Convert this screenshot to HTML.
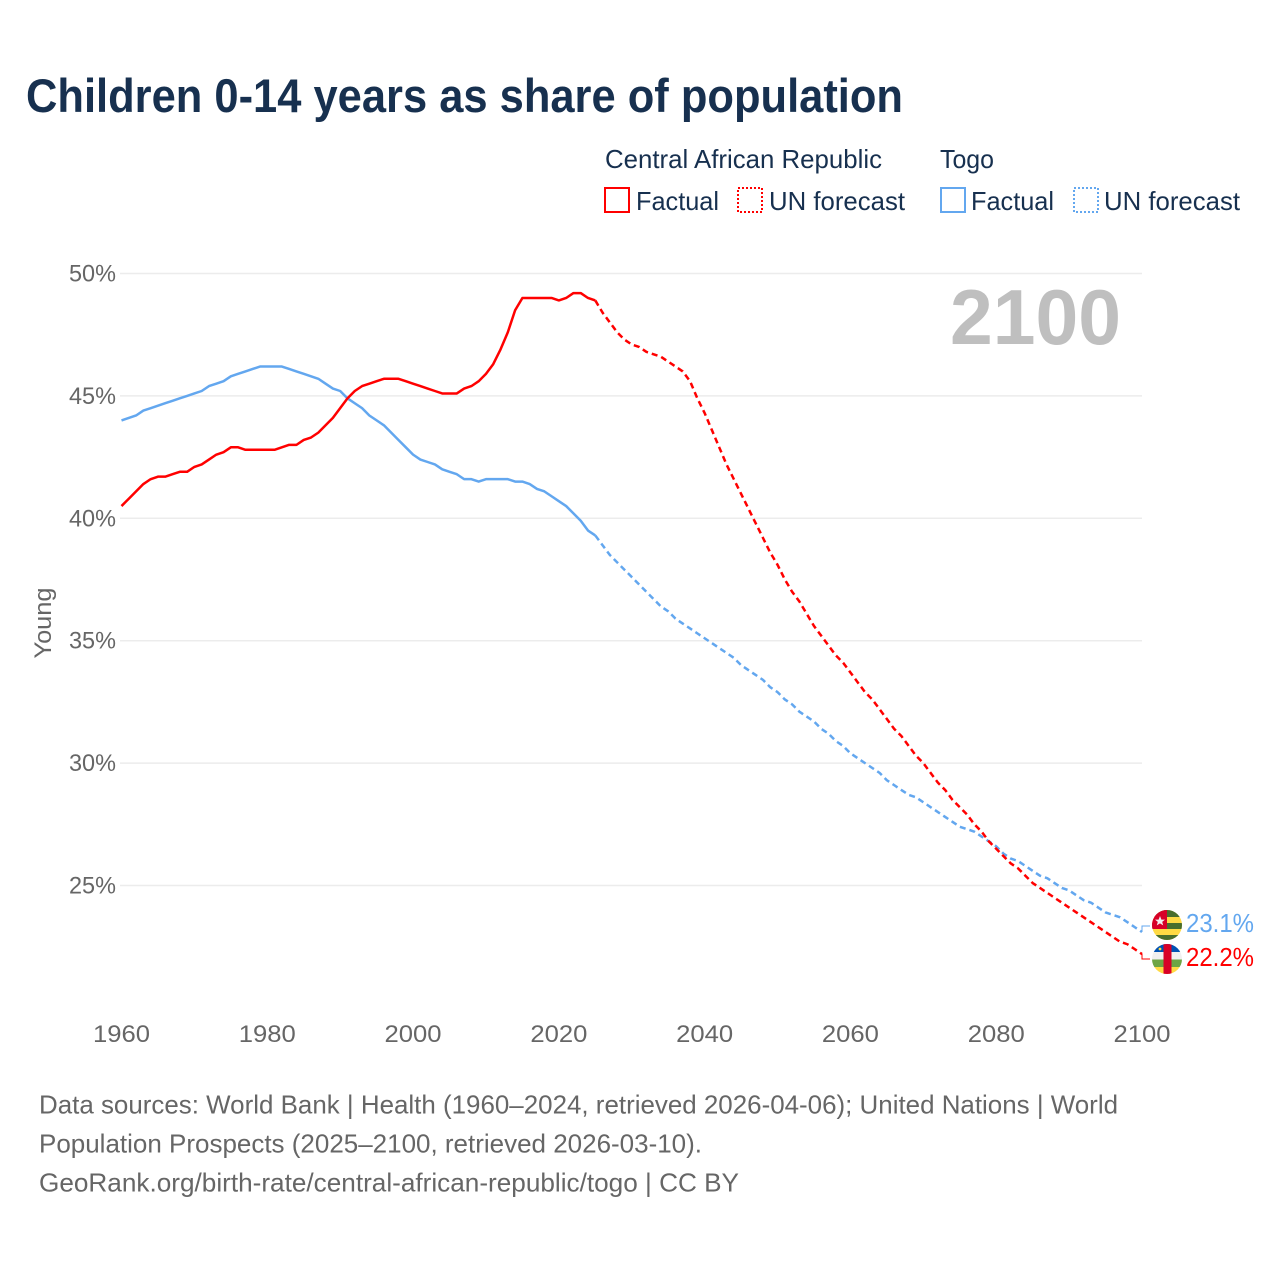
<!DOCTYPE html>
<html lang="en">
<head>
<meta charset="utf-8">
<title>Children 0-14 years as share of population</title>
<style>
html,body{margin:0;padding:0;background:#fff;width:1280px;height:1280px;overflow:hidden}
svg{display:block}
text{font-family:"Liberation Sans",sans-serif}
</style>
</head>
<body>
<svg id="chart" xmlns="http://www.w3.org/2000/svg" width="1280" height="1280" viewBox="0 0 1280 1280">
  <rect x="0" y="0" width="1280" height="1280" fill="#fff"/>
  <text x="26" y="112" font-size="47" font-weight="700" fill="#17304f" textLength="877" lengthAdjust="spacingAndGlyphs">Children 0-14 years as share of population</text>

  <g font-size="26" fill="#17304f">
    <text x="605" y="168" textLength="277" lengthAdjust="spacingAndGlyphs">Central African Republic</text>
    <text x="940" y="168" textLength="54" lengthAdjust="spacingAndGlyphs">Togo</text>
    <rect x="605" y="188" width="24" height="24" fill="none" stroke="#ff0000" stroke-width="2"/>
    <text x="636" y="210" textLength="83" lengthAdjust="spacingAndGlyphs">Factual</text>
    <rect x="738" y="188" width="24" height="24" fill="none" stroke="#ff0000" stroke-width="2" stroke-dasharray="2,2"/>
    <text x="769" y="210" textLength="136" lengthAdjust="spacingAndGlyphs">UN forecast</text>
    <rect x="941" y="188" width="24" height="24" fill="none" stroke="#63a7ef" stroke-width="2"/>
    <text x="971" y="210" textLength="83" lengthAdjust="spacingAndGlyphs">Factual</text>
    <rect x="1074" y="188" width="24" height="24" fill="none" stroke="#63a7ef" stroke-width="2" stroke-dasharray="2,2"/>
    <text x="1104" y="210" textLength="136" lengthAdjust="spacingAndGlyphs">UN forecast</text>
  </g>

  <g id="grid"></g>
  <g id="yticks"></g>
  <g id="xticks"></g>
  <text transform="translate(51,623) rotate(-90)" text-anchor="middle" font-size="24" fill="#666" textLength="71" lengthAdjust="spacingAndGlyphs">Young</text>
  <text x="950" y="344" font-size="78" font-weight="700" fill="#bfbfbf" textLength="171" lengthAdjust="spacingAndGlyphs">2100</text>

  <g id="series"></g>

  <g>
    <clipPath id="clip-togo"><circle cx="1167" cy="925" r="15"/></clipPath>
    <g clip-path="url(#clip-togo)">
      <rect x="1152" y="910" width="30" height="30" fill="#ffda44"/>
      <rect x="1152" y="910" width="30" height="7" fill="#496e2d"/>
      <rect x="1152" y="923" width="30" height="6" fill="#496e2d"/>
      <rect x="1152" y="935" width="30" height="5" fill="#496e2d"/>
      <rect x="1152" y="910" width="15" height="19" fill="#d80027"/>
      <polygon points="1160,916 1161.4,919.6 1165,919.6 1162.2,921.9 1163.2,925.4 1160,923.4 1156.8,925.4 1157.8,921.9 1155,919.6 1158.6,919.6" fill="#f0f0f0"/>
    </g>
  </g>
  <g>
    <clipPath id="clip-car"><circle cx="1167" cy="959" r="15"/></clipPath>
    <g clip-path="url(#clip-car)">
      <rect x="1152" y="944" width="30" height="8" fill="#0052b4"/>
      <rect x="1152" y="952" width="30" height="7.5" fill="#f0f0f0"/>
      <rect x="1152" y="959.5" width="30" height="7.5" fill="#6da544"/>
      <rect x="1152" y="967" width="30" height="7" fill="#ffda44"/>
      <rect x="1163.5" y="944" width="8" height="30" fill="#d80027"/>
      <circle cx="1160" cy="949" r="1.4" fill="#ffda44"/>
    </g>
  </g>
  <text x="1186" y="932" font-size="26" fill="#63a7ef" textLength="68" lengthAdjust="spacingAndGlyphs">23.1%</text>
  <text x="1186" y="966" font-size="26" fill="#ff0000" textLength="68" lengthAdjust="spacingAndGlyphs">22.2%</text>

  <g font-size="26" fill="#666">
    <text x="39" y="1113.5" textLength="1079" lengthAdjust="spacingAndGlyphs">Data sources: World Bank | Health (1960–2024, retrieved 2026-04-06); United Nations | World</text>
    <text x="39" y="1152.5" textLength="663" lengthAdjust="spacingAndGlyphs">Population Prospects (2025–2100, retrieved 2026-03-10).</text>
    <text x="39" y="1191.5" textLength="700" lengthAdjust="spacingAndGlyphs">GeoRank.org/birth-rate/central-african-republic/togo | CC BY</text>
  </g>
</svg>
<script>
const yTicks = [25, 30, 35, 40, 45, 50];
const xTicks = [1960, 1980, 2000, 2020, 2040, 2060, 2080, 2100];
const factualStart = 1960;
const forecastStart = 2025;
const carFactual = [40.5,40.8,41.1,41.4,41.6,41.7,41.7,41.8,41.9,41.9,42.1,42.2,42.4,42.6,42.7,42.9,42.9,42.8,42.8,42.8,42.8,42.8,42.9,43.0,43.0,43.2,43.3,43.5,43.8,44.1,44.5,44.9,45.2,45.4,45.5,45.6,45.7,45.7,45.7,45.6,45.5,45.4,45.3,45.2,45.1,45.1,45.1,45.3,45.4,45.6,45.9,46.3,46.9,47.6,48.5,49.0,49.0,49.0,49.0,49.0,48.9,49.0,49.2,49.2,49.0,48.9];
const carForecast = [48.9,48.4,48.0,47.6,47.3,47.1,47.0,46.8,46.7,46.6,46.4,46.2,46.0,45.6,44.9,44.3,43.6,42.9,42.2,41.6,41.0,40.4,39.8,39.2,38.6,38.1,37.5,37.0,36.6,36.1,35.6,35.2,34.8,34.4,34.1,33.7,33.3,32.9,32.6,32.2,31.8,31.4,31.1,30.7,30.3,30.0,29.6,29.2,28.9,28.5,28.2,27.9,27.5,27.2,26.8,26.5,26.2,25.9,25.7,25.4,25.1,24.9,24.7,24.5,24.3,24.1,23.9,23.7,23.5,23.3,23.1,22.9,22.7,22.6,22.4,22.2];
const togoFactual = [44.0,44.1,44.2,44.4,44.5,44.6,44.7,44.8,44.9,45.0,45.1,45.2,45.4,45.5,45.6,45.8,45.9,46.0,46.1,46.2,46.2,46.2,46.2,46.1,46.0,45.9,45.8,45.7,45.5,45.3,45.2,44.9,44.7,44.5,44.2,44.0,43.8,43.5,43.2,42.9,42.6,42.4,42.3,42.2,42.0,41.9,41.8,41.6,41.6,41.5,41.6,41.6,41.6,41.6,41.5,41.5,41.4,41.2,41.1,40.9,40.7,40.5,40.2,39.9,39.5,39.3];
const togoForecast = [39.3,38.9,38.5,38.2,37.9,37.6,37.3,37.0,36.7,36.4,36.2,35.9,35.7,35.5,35.3,35.1,34.9,34.7,34.5,34.3,34.0,33.8,33.6,33.4,33.1,32.9,32.6,32.4,32.1,31.9,31.7,31.4,31.2,30.9,30.7,30.4,30.2,30.0,29.8,29.6,29.3,29.1,28.9,28.7,28.6,28.4,28.2,28.0,27.8,27.6,27.4,27.3,27.2,27.0,26.8,26.6,26.3,26.1,26.0,25.8,25.6,25.4,25.3,25.1,24.9,24.8,24.6,24.4,24.3,24.1,23.9,23.8,23.7,23.5,23.3,23.1];

const NS = 'http://www.w3.org/2000/svg';
function xScale(year) { return 121.5 + (year - 1960) * (1142 - 121.5) / 140; }
function yScale(v) { return 273.5 + (50 - v) * (885.5 - 273.5) / 25; }

const gridG = document.getElementById('grid');
const yG = document.getElementById('yticks');
const xG = document.getElementById('xticks');
const seriesG = document.getElementById('series');

yTicks.forEach(function (t) {
  const line = document.createElementNS(NS, 'line');
  
  
  line.setAttribute('x1', xScale(1960) - 1.5);
  line.setAttribute('x2', xScale(2100));
  line.setAttribute('y1', yScale(t));
  line.setAttribute('y2', yScale(t));
  line.setAttribute('stroke', '#ececec');
  line.setAttribute('stroke-width', '1.5');
  gridG.appendChild(line);

  const label = document.createElementNS(NS, 'text');
  
  
  label.setAttribute('x', 69);
  label.setAttribute('y', yScale(t) + 8);
  label.setAttribute('font-size', '24');
  label.setAttribute('fill', '#666');
  label.setAttribute('textLength', '47');
  label.setAttribute('lengthAdjust', 'spacingAndGlyphs');
  label.textContent = t + '%';
  yG.appendChild(label);
});

xTicks.forEach(function (t) {
  const label = document.createElementNS(NS, 'text');
  
  
  label.setAttribute('x', xScale(t) - 28.5);
  label.setAttribute('y', 1042);
  label.setAttribute('font-size', '24');
  label.setAttribute('fill', '#666');
  label.setAttribute('textLength', '57');
  label.setAttribute('lengthAdjust', 'spacingAndGlyphs');
  label.textContent = t;
  xG.appendChild(label);
});

function linePoints(values, start) {
  return values.map(function (v, i) {
    return xScale(start + i).toFixed(2) + ',' + yScale(v).toFixed(2);
  }).join(' ');
}

function drawSeries(name, values, start, color, dashed) {
  const p = document.createElementNS(NS, 'polyline');
  
  
  p.setAttribute('points', linePoints(values, start));
  p.setAttribute('fill', 'none');
  p.setAttribute('stroke', color);
  p.setAttribute('stroke-width', '2.5');
  p.setAttribute('stroke-linejoin', 'round');
  if (dashed) p.setAttribute('stroke-dasharray', '6,4');
  seriesG.appendChild(p);
}

drawSeries('togo-factual-line', togoFactual, factualStart, '#63a7ef', false);
drawSeries('togo-forecast-line', togoForecast, forecastStart, '#63a7ef', true);
drawSeries('car-factual-line', carFactual, factualStart, '#ff0000', false);
drawSeries('car-forecast-line', carForecast, forecastStart, '#ff0000', true);

function drawConnector(name, values, flagY, color) {
  const last = values[values.length - 1];
  const x = xScale(2100);
  const c = document.createElementNS(NS, 'polyline');
  
  
  c.setAttribute('points', x + ',' + yScale(last) + ' ' + x + ',' + flagY + ' ' + (x + 8) + ',' + flagY);
  c.setAttribute('fill', 'none');
  c.setAttribute('stroke', color);
  c.setAttribute('stroke-width', '1');
  seriesG.appendChild(c);
}
drawConnector('togo-label-connector', togoForecast, 926, '#63a7ef');
drawConnector('car-label-connector', carForecast, 959, '#ff0000');
</script>
</body>
</html>
